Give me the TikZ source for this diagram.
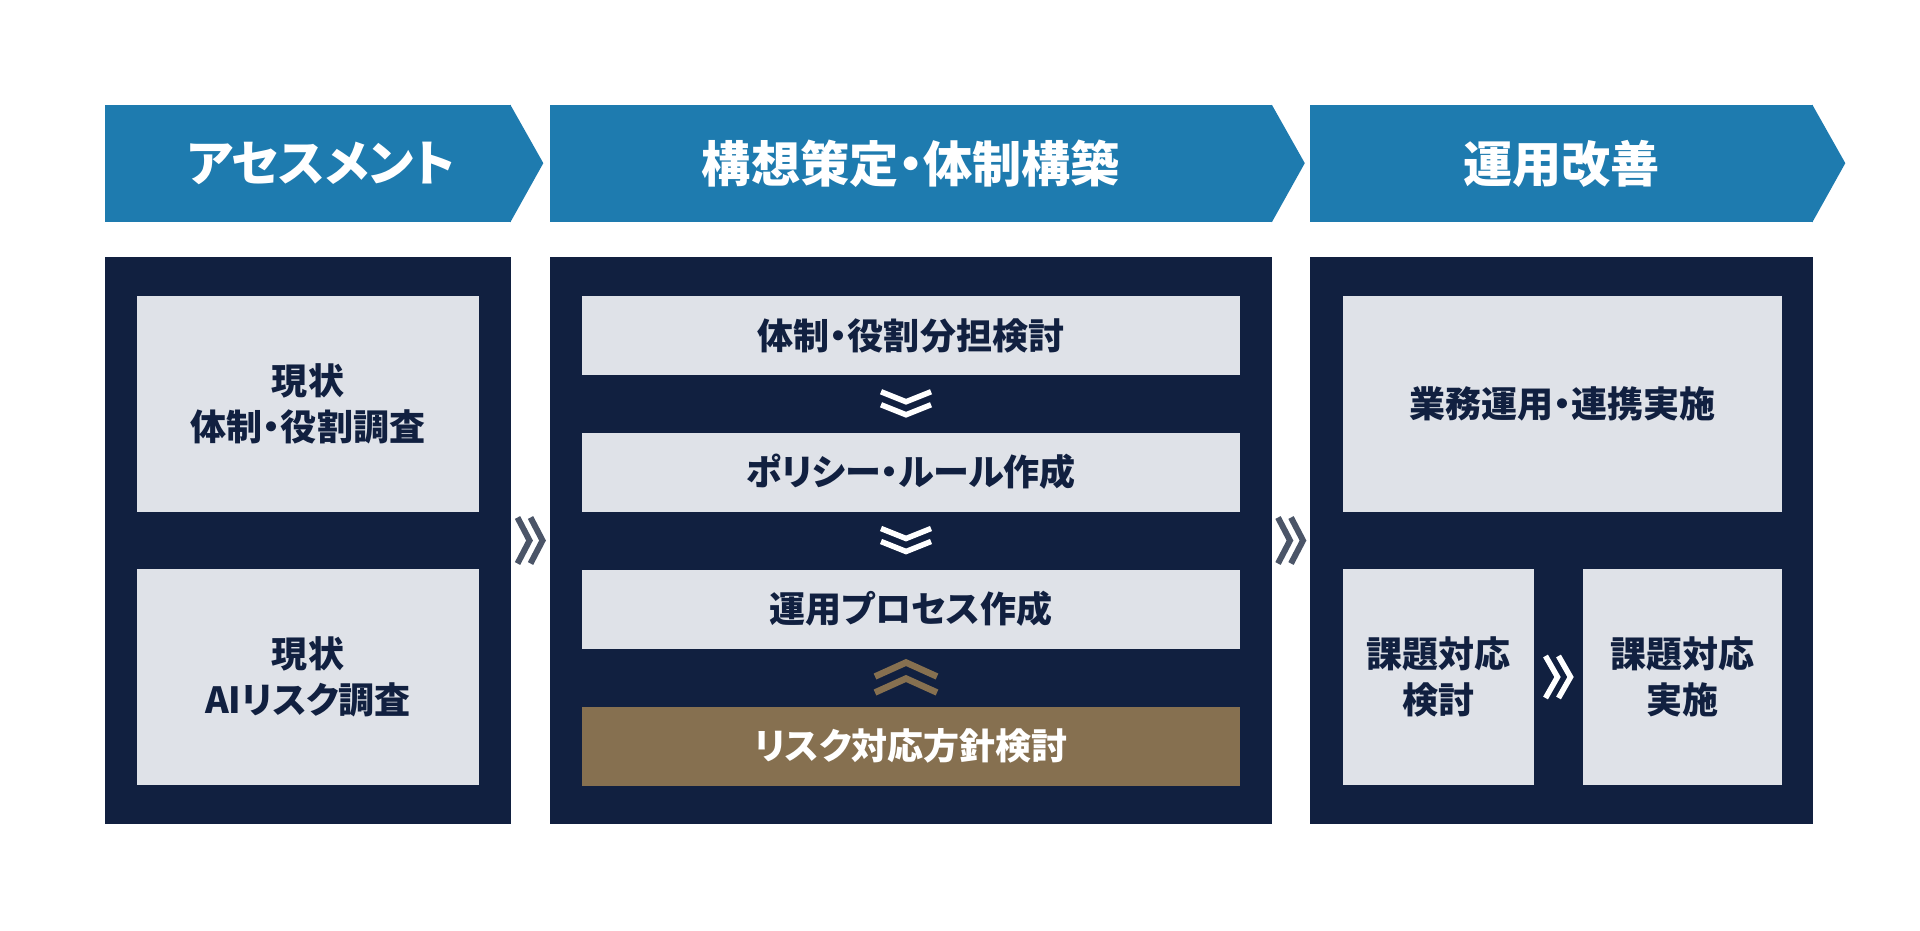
\documentclass[tikz,border=0pt]{standalone}
\usepackage{fontspec}
\setmainfont{Noto Sans CJK JP}[RawFeature=+palt]
\usetikzlibrary{positioning,calc}
\definecolor{hdrfill}{HTML}{1E7BAF}
\definecolor{panelc}{HTML}{112040}
\definecolor{cellc}{HTML}{DFE2E8}
\definecolor{riskc}{HTML}{867050}
\definecolor{txt}{HTML}{112040}
\definecolor{gchevc}{HTML}{4B5568}

\begin{document}
\begin{tikzpicture}[
  x=0.02cm, y=-0.02cm,
  every node/.style={text=txt},
  hdr/.style={fill=hdrfill, text=white, inner sep=0pt, minimum height=2.34cm,
     font=\bfseries\fontsize{28}{32}\selectfont},
  panel/.style={fill=panelc, inner sep=0pt, minimum height=11.34cm},
  cell/.style={fill=cellc, align=center, inner sep=0pt,
     font=\bfseries\fontsize{20.5}{26}\selectfont},
  bigcell/.style={cell, minimum height=4.32cm},
  rowcell/.style={cell, minimum width=13.16cm, minimum height=1.58cm},
  gchev/.style={draw=gchevc, line width=0.12cm},
  wchev/.style={draw=white, line width=0.11cm},
  bchev/.style={draw=riskc, line width=0.13cm},
]
% --- columns / rows ---
\def\xa{308}  \def\xb{911}  \def\xc{1561.5}
\def\yh{163.5}  \def\yp{540.5}
\useasboundingbox (0,0) rectangle (1920,930);
% --- headers ---
\node[hdr, minimum width=8.12cm]  (hA) at (\xa,\yh) {\hspace*{0.52cm}アセスメント};
\node[hdr, minimum width=14.46cm] (hB) at (\xb,\yh) {構想策定・体制構築};
\node[hdr, minimum width=10.06cm] (hC) at (\xc,\yh) {運用改善};
\foreach \h in {hA,hB,hC}
  \fill[hdrfill] ($(\h.north east)+(-1,0)$) -- ++(33,58.5)
     -- ($(\h.south east)+(-1,0)$) -- cycle;
% --- panels ---
\node[panel, minimum width=8.12cm]  (pA) at (\xa,\yp) {};
\node[panel, minimum width=14.44cm] (pB) at (\xb,\yp) {};
\node[panel, minimum width=10.06cm] (pC) at (\xc,\yp) {};
% --- assessment ---
\node[bigcell, minimum width=6.84cm] (a1) at (\xa,404) {現状\\体制・役割調査};
\node[bigcell, minimum width=6.84cm] (a2) at (\xa,677) {現状\\AIリスク調査};
% --- concept / organisation ---
\node[rowcell] (b1) at (\xb,335.5) {体制・役割分担検討};
\node[rowcell] (b2) at (\xb,472)   {ポリシー・ルール作成};
\node[rowcell] (b3) at (\xb,609)   {運用プロセス作成};
\node[rowcell, fill=riskc, text=white] (b4) at (\xb,746) {リスク対応方針検討};
% --- operation ---
\node[bigcell, minimum width=8.78cm] (c1) at (1562.5,404) {業務運用・連携実施};
\node[bigcell, minimum width=3.82cm] (c2) at (1438.5,677) {課題対応\\検討};
\node[bigcell, minimum width=3.98cm] (c3) at (1682.5,677) {課題対応\\実施};
% --- chevrons ---
\coordinate (gA) at ($(pA.east)!0.5!(pB.west)$);
\coordinate (gB) at ($(pB.east)!0.5!(pC.west)$);
\coordinate (gC) at ($(c2.east)!0.5!(c3.west)$);
\coordinate (d1) at ($(b1.south)!0.5!(b2.north)+(-5,0)$);
\coordinate (d2) at ($(b2.south)!0.5!(b3.north)+(-5,0)$);
\coordinate (u1) at ($(b3.south)!0.5!(b4.north)+(-5,0)$);
\foreach \d in {-7,6} {
  \draw[gchev, shift={(gA)}] (\d-6,-23) -- (\d+6,0) -- (\d-6,23);
  \draw[gchev, shift={(gB)}] (\d-6,-23) -- (\d+6,0) -- (\d-6,23);
  \draw[wchev, shift={(gC)}] (\d-6,-21) -- (\d+6,0) -- (\d-6,21);
  \draw[wchev, shift={(d1)}] (-25,\d-5) -- (0,\d+5) -- (25,\d-5);
  \draw[wchev, shift={(d2)}] (-25,\d-5) -- (0,\d+5) -- (25,\d-5);
}
\foreach \d in {-8,8}
  \draw[bchev, shift={(u1)}] (-31,\d+7) -- (0,\d-7) -- (31,\d+7);
\end{tikzpicture}
\end{document}
